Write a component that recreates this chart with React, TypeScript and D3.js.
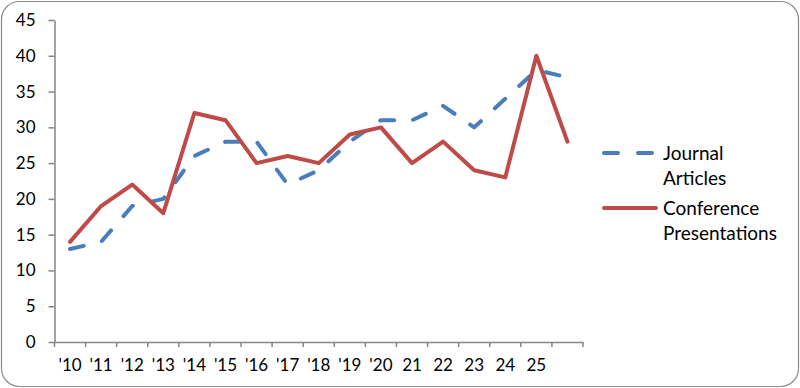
import React, { useEffect, useRef } from "react";
import * as d3 from "d3";

// category labels (last category carries no label in the source)
const yearLabels = ["'10", "'11", "'12", "'13", "'14", "'15", "'16", "'17", "'18", "'19", "'20", "21", "22", "23", "24", "25", ""];
const journalArticles = [13, 14, 19, 20, 26, 28, 28, 22, 24, 28, 31, 31, 33, 30, 34, 38, 37];
const conferencePresentations = [14, 19, 22, 18, 32, 31, 25, 26, 25, 29, 30, 25, 28, 24, 23, 40, 28];
const yTicks = [0, 5, 10, 15, 20, 25, 30, 35, 40, 45];

const series = [
  { name: ["Journal", "Articles"], values: journalArticles, color: "#4a7ebb", dash: "14 19" },
  { name: ["Conference", "Presentations"], values: conferencePresentations, color: "#be4b48", dash: null },
];

const FONT = "Lato, 'Open Sans', sans-serif";

const App = () => {
  const svgRef = useRef<SVGSVGElement>(null);

  useEffect(() => {
    const svg = d3.select(svgRef.current);
    svg.selectAll("*").remove();

    const width = 800;
    const height = 388;
    const plot = { left: 54.5, right: 583, top: 20, bottom: 342 };
    const axisColor = "#868686";

    svg.attr("width", width).attr("height", height);

    // outer frame
    svg.append("rect")
      .attr("x", 1.5).attr("y", 1.5)
      .attr("width", width - 3).attr("height", height - 3)
      .attr("rx", 18).attr("ry", 18)
      .attr("fill", "#fff")
      .attr("stroke", "#8c8c8c")
      .attr("stroke-width", 1.2);

    const idx = yearLabels.map((_, i) => i);
    const x = d3.scaleBand<number>().domain(idx).range([plot.left, plot.right]);
    const y = d3.scaleLinear().domain([0, 45]).range([plot.bottom, plot.top]);
    const cx = (i: number) => (x(i) as number) + x.bandwidth() / 2;

    // y axis
    const yAxis = svg.append("g")
      .attr("transform", `translate(${plot.left},0)`)
      .call(d3.axisLeft(y).tickValues(yTicks).tickSize(6).tickSizeOuter(0).tickPadding(13));
    yAxis.select(".domain").attr("stroke", axisColor).attr("stroke-width", 1.5);
    yAxis.selectAll(".tick line").attr("stroke", axisColor).attr("stroke-width", 1.5);
    yAxis.selectAll(".tick text")
      .attr("fill", "#000")
      .style("font-family", FONT)
      .style("font-size", "17px");

    // x axis: labels at band centres, tick marks at band edges
    const xAxis = svg.append("g")
      .attr("transform", `translate(0,${plot.bottom})`)
      .call(d3.axisBottom(x).tickFormat((i) => yearLabels[i as number]).tickSize(0).tickPadding(17));
    xAxis.select(".domain").attr("stroke", axisColor).attr("stroke-width", 1.5);
    xAxis.selectAll(".tick text")
      .attr("fill", "#000")
      .style("font-family", FONT)
      .style("font-size", "17px");
    xAxis.selectAll("line.edge")
      .data(d3.range(idx.length + 1))
      .enter()
      .append("line")
      .attr("class", "edge")
      .attr("x1", (i) => plot.left + x.step() * i)
      .attr("x2", (i) => plot.left + x.step() * i)
      .attr("y1", 0)
      .attr("y2", 5)
      .attr("stroke", axisColor)
      .attr("stroke-width", 1.5);

    // lines
    const line = d3.line<number>()
      .x((_, i) => cx(i))
      .y((d) => y(d));

    series.forEach((s) => {
      svg.append("path")
        .datum(s.values)
        .attr("fill", "none")
        .attr("stroke", s.color)
        .attr("stroke-width", 4)
        .attr("stroke-linejoin", "round")
        .attr("stroke-linecap", "round")
        .attr("stroke-dasharray", s.dash)
        .attr("d", line);
    });

    // legend
    const legend = svg.append("g").attr("transform", "translate(604,0)");
    const legendY = [153, 208];
    series.forEach((s, k) => {
      const g = legend.append("g").attr("transform", `translate(0,${legendY[k]})`);
      g.append("line")
        .attr("x1", 0).attr("x2", 52)
        .attr("y1", 0).attr("y2", 0)
        .attr("stroke", s.color)
        .attr("stroke-width", 4)
        .attr("stroke-linecap", "round")
        .attr("stroke-dasharray", s.dash ? "14 20" : null);
      s.name.forEach((t, j) => {
        g.append("text")
          .attr("x", 59)
          .attr("y", 7 + j * 25)
          .attr("fill", "#000")
          .style("font-family", FONT)
          .style("font-size", "19px")
          .text(t);
      });
    });
  }, []);

  return (
    <div style={{ position: "absolute", left: 0, top: 0 }}>
      <svg ref={svgRef}></svg>
    </div>
  );
};

export default App;
